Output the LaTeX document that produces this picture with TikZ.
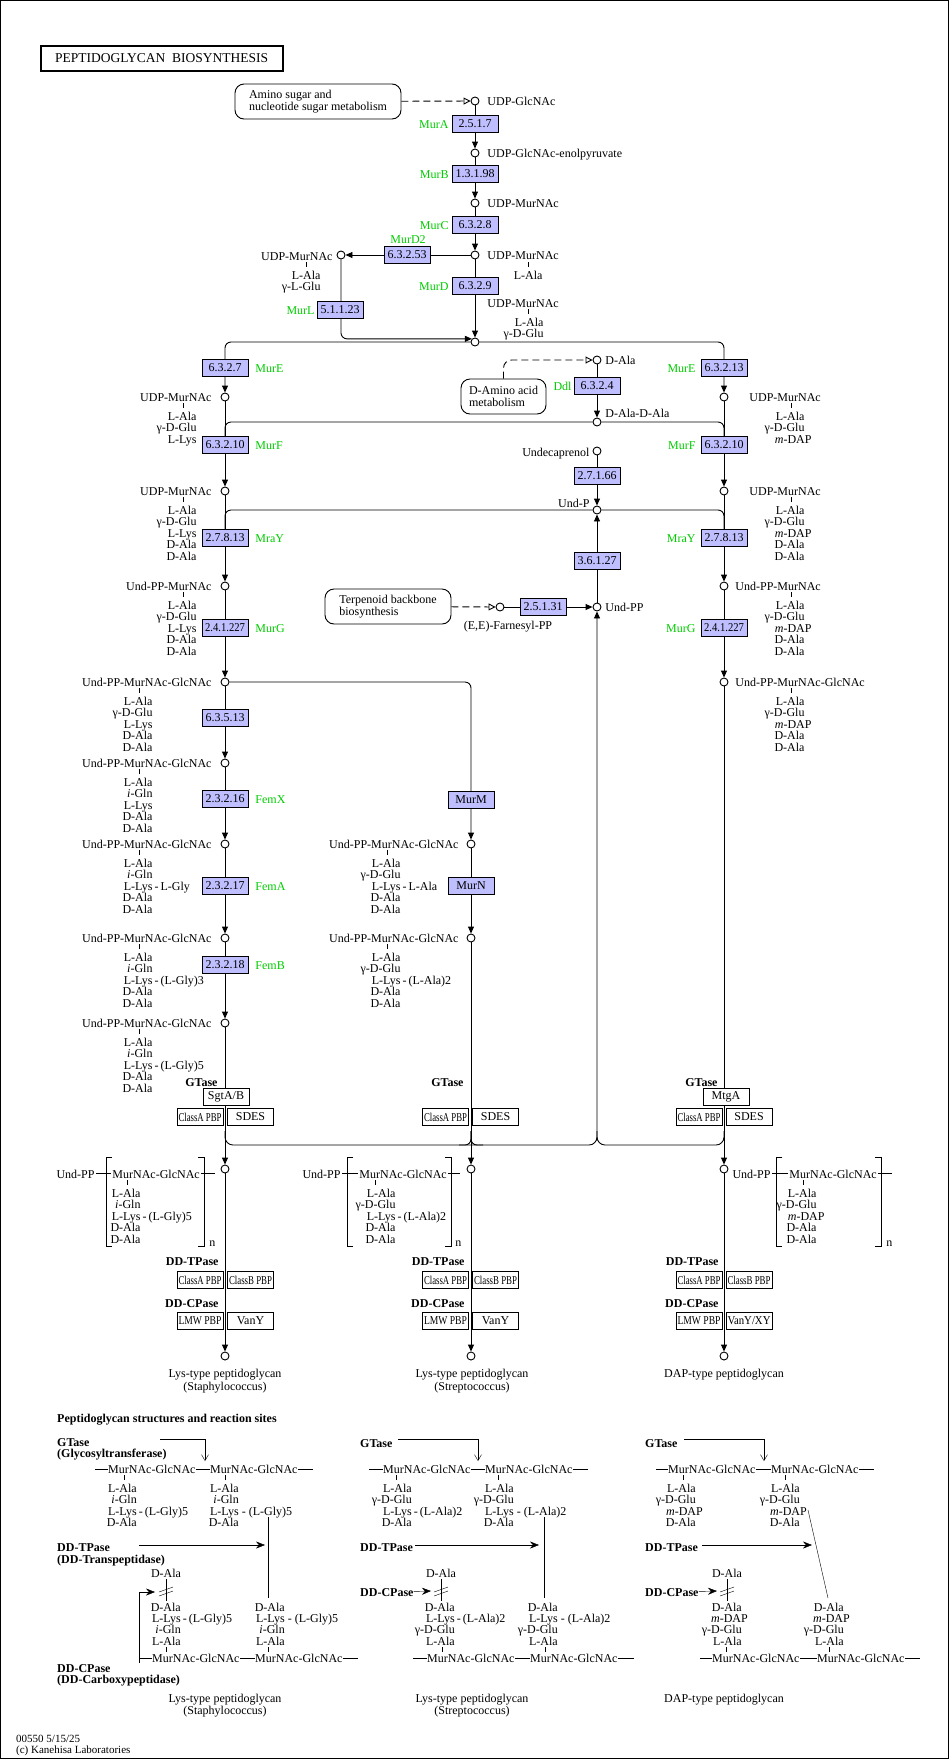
\documentclass[tikz,border=0pt]{standalone}
\usepackage{fontspec}
\setmainfont{Liberation Serif}
\usepackage{graphicx}
\usetikzlibrary{arrows.meta,positioning}

\pgfdeclarelayer{bg}
\pgfsetlayers{bg,main}

\definecolor{enzblue}{HTML}{BFBFFF}
\definecolor{genegreen}{HTML}{00CC00}

\newcommand{\txtfont}{\fontsize{12}{11.6}\selectfont}
\newcommand{\bldfont}{\fontsize{12}{11}\selectfont\bfseries}

% squeeze a text into a given width
\newsavebox\fitbox
\newcommand{\fitw}[2]{\sbox\fitbox{#2}%
  \ifdim\wd\fitbox>#1\relax\resizebox{#1}{\ht\fitbox}{\usebox\fitbox}\else\usebox\fitbox\fi}

\tikzset{
  cpd/.style={circle, draw, fill=white, minimum size=8pt, inner sep=0pt},
  ec/.style={draw, fill=enzblue, minimum width=46pt, minimum height=17pt, inner sep=0pt, font=\txtfont},
  gp/.style={draw, fill=white, minimum width=46pt, minimum height=17pt, inner sep=0pt, font=\txtfont},
  map/.style={draw, rounded corners=9pt, minimum height=35pt, inner sep=0pt, align=left, font=\fontsize{12}{11.5}\selectfont},
  gene/.style={text=genegreen, font=\txtfont, inner sep=0pt},
  lbl/.style={font=\txtfont, inner sep=0pt},
  bold/.style={font=\bldfont, inner sep=0pt},
  arr/.style={-{Triangle[length=7pt,width=6pt]}},
  dasharr/.style={dash pattern=on 7pt off 4pt, -{Triangle[open,length=7pt,width=7pt]}},
  barb/.style={-{Straight Barb[length=6pt,width=7pt]}},
  shaft/.style={-{Stealth[length=9pt,width=7pt,inset=3pt]}},
}

% enzyme box and plain gene box
\newcommand{\enz}[4]{\node[ec] (#1) at (#2,#3) {\fitw{40pt}{#4}};}
\newcommand{\gbox}[4]{\node[gp] (#1) at (#2,#3) {\fitw{43pt}{#4}};}
% residues below a compound name: name, tick x, name y, right edge, lines
\newcommand{\resid}[5]{%
  \draw (#2,#3+6) -- (#2,#3+11);
  \foreach \rs [count=\ii from 0] in {#5}
    \node[lbl, anchor=base east] (#1-\ii) at (#4,#3+23+\ii*11.6) {\rs};}
% plain stack: name, right edge, first line y, lines
\newcommand{\stk}[4]{%
  \foreach \rs [count=\ii from 0] in {#4}
    \node[lbl, anchor=base east] (#1-\ii) at (#2,#3+4+\ii*11.4) {\rs};}
% cut of the D-Ala--D-Ala bond
\newcommand{\cutmark}[2]{%
  \draw (#1,#2-12) -- (#1,#2+10);
  \draw (#1-7,#2+1) -- (#1+7,#2-4);
  \draw (#1-7,#2+5) -- (#1+7,#2);}

\begin{document}
\begin{tikzpicture}[x=1pt,y=-1pt,line width=0.9pt]
    \useasboundingbox (0,0) rectangle (949,1759);
    \draw[line width=1.2pt] (0.6,0.6) rectangle (948.4,1758.4);

    % Title
    \node[draw, line width=2pt, minimum width=242pt, minimum height=25pt, inner sep=0pt,
          font=\fontsize{13.5}{14}\selectfont] (title) at (161.6,58.4) {PEPTIDOGLYCAN\ \ BIOSYNTHESIS};

    % Maps
    \node[map, minimum width=166pt] (amino) at (318,101.5) {Amino sugar and\\nucleotide sugar metabolism};
    \node[map, minimum width=85pt] (damino) at (503.5,396.5) {D-Amino acid\\metabolism};
    \node[map, minimum width=126pt] (terp) at (388,606.5) {Terpenoid backbone\\biosynthesis};

    % Compounds, common part
    \node[cpd] (glcnac) at (475,101) {};
    \node[cpd] (enol) at (475,153) {};
    \node[cpd] (murnac) at (475,203) {};
    \node[cpd] (murnacA) at (475,255) {};
    \node[cpd] (murnacLG) at (341,255) {};
    \node[cpd] (murnacDG) at (475,342) {};
    % Lys branch
    \node[cpd] (lysA) at (225,397) {};
    \node[cpd] (lysB) at (225,491) {};
    \node[cpd] (lysC) at (225,586) {};
    \node[cpd] (lysD) at (225,682) {};
    \node[cpd] (lysE) at (225,763) {};
    \node[cpd] (lysF) at (225,844) {};
    \node[cpd] (lysG) at (225,938) {};
    \node[cpd] (lysH) at (225,1023) {};
    \node[cpd] (lysP) at (225,1169) {};
    \node[cpd] (lysEnd) at (225,1356) {};
    % Streptococcus branch
    \node[cpd] (strA) at (471,844) {};
    \node[cpd] (strB) at (471,938) {};
    \node[cpd] (strP) at (471,1169) {};
    \node[cpd] (strEnd) at (471,1356) {};
    % DAP branch
    \node[cpd] (dapA) at (724,397) {};
    \node[cpd] (dapB) at (724,491) {};
    \node[cpd] (dapC) at (724,586) {};
    \node[cpd] (dapD) at (724,682) {};
    \node[cpd] (dapP) at (724,1169) {};
    \node[cpd] (dapEnd) at (724,1356) {};
    % D-Ala and lipid carrier
    \node[cpd] (dala) at (597,360) {};
    \node[cpd] (dalaDala) at (597,422) {};
    \node[cpd] (undec) at (597,451) {};
    \node[cpd] (undP) at (597,510) {};
    \node[cpd] (undPP) at (597,607) {};
    \node[cpd] (farn) at (500,607) {};

    % Enzymes
    \enz{eMurA}{475}{124}{2.5.1.7}
    \enz{eMurB}{475}{174}{1.3.1.98}
    \enz{eMurC}{475}{225}{6.3.2.8}
    \enz{eMurDtwo}{407}{255}{6.3.2.53}
    \enz{eMurD}{475}{286}{6.3.2.9}
    \enz{eMurL}{340}{310}{5.1.1.23}
    \enz{eMurEl}{225}{368}{6.3.2.7}
    \enz{eMurEr}{724}{368}{6.3.2.13}
    \enz{eDdl}{597}{386}{6.3.2.4}
    \enz{eMurFl}{225}{445}{6.3.2.10}
    \enz{eMurFr}{724}{445}{6.3.2.10}
    \enz{eUdpK}{597}{476}{2.7.1.66}
    \enz{eMraYl}{225}{538}{2.7.8.13}
    \enz{eMraYr}{724}{538}{2.7.8.13}
    \enz{eUppP}{597}{561}{3.6.1.27}
    \enz{eUppS}{543}{607}{2.5.1.31}
    \enz{eMurGl}{225}{628}{2.4.1.227}
    \enz{eMurGr}{724}{628}{2.4.1.227}
    \enz{eMurT}{225}{718}{6.3.5.13}
    \enz{eFemX}{225}{799}{2.3.2.16}
    \enz{eMurM}{471}{800}{MurM}
    \enz{eFemA}{225}{886}{2.3.2.17}
    \enz{eMurN}{471}{886}{MurN}
    \enz{eFemB}{225}{965}{2.3.2.18}

    % Gene names
    \node[gene, anchor=base east] (gMurA) at (449,128) {MurA};
    \node[gene, anchor=base east] (gMurB) at (449,178) {MurB};
    \node[gene, anchor=base east] (gMurC) at (449,229) {MurC};
    \node[gene, anchor=base] (gMurDtwo) at (408,243) {MurD2};
    \node[gene, anchor=base east] (gMurD) at (449,290) {MurD};
    \node[gene, anchor=base east] (gMurL) at (315,314) {MurL};
    \node[gene, anchor=base west] (gMurEl) at (255,372) {MurE};
    \node[gene, anchor=base west] (gMurFl) at (255,449) {MurF};
    \node[gene, anchor=base west] (gMraYl) at (255,542) {MraY};
    \node[gene, anchor=base west] (gMurGl) at (255,632) {MurG};
    \node[gene, anchor=base west] (gFemX) at (255,803) {FemX};
    \node[gene, anchor=base west] (gFemA) at (255,890) {FemA};
    \node[gene, anchor=base west] (gFemB) at (255,969) {FemB};
    \node[gene, anchor=base east] (gMurEr) at (696,372) {MurE};
    \node[gene, anchor=base east] (gMurFr) at (696,449) {MurF};
    \node[gene, anchor=base east] (gMraYr) at (696,542) {MraY};
    \node[gene, anchor=base east] (gMurGr) at (696,632) {MurG};
    \node[gene, anchor=base east] (gDdl) at (572,390) {Ddl};

    % Compound names, common part
    \node[lbl, anchor=base west] (tGlcnac) at (487,105) {UDP-GlcNAc};
    \node[lbl, anchor=base west] (tEnol) at (487,157) {UDP-GlcNAc-enolpyruvate};
    \node[lbl, anchor=base west] (tMurnac) at (487,207) {UDP-MurNAc};
    \node[lbl, anchor=base west] (tMurnacA) at (487,259) {UDP-MurNAc};
    \resid{rMurnacA}{528}{256}{543}{L-Ala}
    \node[lbl, anchor=base east] (tMurnacLG) at (333,260) {UDP-MurNAc};
    \resid{rMurnacLG}{306}{256}{321}{L-Ala, γ-L-Glu}
    \node[lbl, anchor=base west] (tMurnacDG) at (487,307) {UDP-MurNAc};
    \resid{rMurnacDG}{528}{303}{544}{L-Ala, γ-D-Glu}
    \node[lbl, anchor=base west] (tDala) at (605,364) {D-Ala};
    \node[lbl, anchor=base west] (tDalaDala) at (605,417) {D-Ala-D-Ala};
    \node[lbl, anchor=base east] (tUndec) at (590,456) {Undecaprenol};
    \node[lbl, anchor=base east] (tUndP) at (590,507) {Und-P};
    \node[lbl, anchor=base west] (tUndPP) at (605,611) {Und-PP};
    \node[lbl, anchor=base] (tFarn) at (508,629) {(E,E)-Farnesyl-PP};

    % Lys branch names
    \node[lbl, anchor=base east] (tLysA) at (212,401) {UDP-MurNAc};
    \resid{rLysA}{183}{397}{197}{L-Ala, γ-D-Glu, L-Lys}
    \node[lbl, anchor=base east] (tLysB) at (212,495) {UDP-MurNAc};
    \resid{rLysB}{183}{491}{197}{L-Ala, γ-D-Glu, L-Lys, D-Ala, D-Ala}
    \node[lbl, anchor=base east] (tLysC) at (212,590) {Und-PP-MurNAc};
    \resid{rLysC}{183}{586}{197}{L-Ala, γ-D-Glu, L-Lys, D-Ala, D-Ala}
    \node[lbl, anchor=base east] (tLysD) at (212,686) {Und-PP-MurNAc-GlcNAc};
    \resid{rLysD}{139}{682}{153}{L-Ala, γ-D-Glu, L-Lys, D-Ala, D-Ala}
    \node[lbl, anchor=base east] (tLysE) at (212,767) {Und-PP-MurNAc-GlcNAc};
    \resid{rLysE}{139}{763}{153}{L-Ala, \textit{i}-Gln, L-Lys, D-Ala, D-Ala}
    \node[lbl, anchor=base east] (tLysF) at (212,848) {Und-PP-MurNAc-GlcNAc};
    \resid{rLysF}{139}{844}{153}{L-Ala, \textit{i}-Gln, L-Lys\rlap{\,-\,L-Gly}, D-Ala, D-Ala}
    \node[lbl, anchor=base east] (tLysG) at (212,942) {Und-PP-MurNAc-GlcNAc};
    \resid{rLysG}{139}{938}{153}{L-Ala, \textit{i}-Gln, L-Lys\rlap{\,-\,(L-Gly)3}, D-Ala, D-Ala}
    \node[lbl, anchor=base east] (tLysH) at (212,1027) {Und-PP-MurNAc-GlcNAc};
    \resid{rLysH}{139}{1023}{153}{L-Ala, \textit{i}-Gln, L-Lys\rlap{\,-\,(L-Gly)5}, D-Ala, D-Ala}

    % Streptococcus branch names
    \node[lbl, anchor=base east] (tStrA) at (459,848) {Und-PP-MurNAc-GlcNAc};
    \resid{rStrA}{387}{844}{401}{L-Ala, γ-D-Glu, L-Lys\rlap{\,-\,L-Ala}, D-Ala, D-Ala}
    \node[lbl, anchor=base east] (tStrB) at (459,942) {Und-PP-MurNAc-GlcNAc};
    \resid{rStrB}{387}{938}{401}{L-Ala, γ-D-Glu, L-Lys\rlap{\,-\,(L-Ala)2}, D-Ala, D-Ala}

    % DAP branch names
    \node[lbl, anchor=base west] (tDapA) at (749,401) {UDP-MurNAc};
    \resid{rDapA}{791}{397}{805}{L-Ala, γ-D-Glu, \textit{m}-DAP\kern-7pt}
    \node[lbl, anchor=base west] (tDapB) at (749,495) {UDP-MurNAc};
    \resid{rDapB}{791}{491}{805}{L-Ala, γ-D-Glu, \textit{m}-DAP\kern-7pt, D-Ala, D-Ala}
    \node[lbl, anchor=base west] (tDapC) at (735,590) {Und-PP-MurNAc};
    \resid{rDapC}{791}{586}{805}{L-Ala, γ-D-Glu, \textit{m}-DAP\kern-7pt, D-Ala, D-Ala}
    \node[lbl, anchor=base west] (tDapD) at (735,686) {Und-PP-MurNAc-GlcNAc};
    \resid{rDapD}{791}{682}{805}{L-Ala, γ-D-Glu, \textit{m}-DAP\kern-7pt, D-Ala, D-Ala}

    % GTase
    \node[bold, anchor=base east] (gtL) at (218,1086) {GTase};
    \gbox{sgt}{226}{1097}{SgtA/B}
    \gbox{paL}{200}{1117}{ClassA PBP}
    \gbox{sdL}{250.5}{1117}{SDES}
    \node[bold, anchor=base east] (gtM) at (464,1086) {GTase};
    \gbox{paM}{445.5}{1117}{ClassA PBP}
    \gbox{sdM}{495.5}{1117}{SDES}
    \node[bold, anchor=base east] (gtR) at (718,1086) {GTase};
    \gbox{mtg}{726}{1097}{MtgA}
    \gbox{paR}{699}{1117}{ClassA PBP}
    \gbox{sdR}{749}{1117}{SDES}

    % Polymers
    \node[lbl, anchor=base east, inner xsep=1pt] (pUndL) at (96,1178) {Und-PP};
    \node[lbl, anchor=base west, inner xsep=1pt] (pMurL) at (111,1178) {MurNAc-GlcNAc};
    \draw (pUndL) -- (pMurL);
    \draw (pMurL.east) -- ++(14,0);
    \draw (112,1157) -| (106,1246) -- (112,1246);
    \draw (198,1157) -| (204,1246) -- (198,1246);
    \node[lbl, anchor=base west] (pNL) at (209,1246) {n};
    \resid{rPL}{127}{1174}{141}{L-Ala, \textit{i}-Gln, L-Lys\rlap{\,-\,(L-Gly)5}, D-Ala, D-Ala}

    \node[lbl, anchor=base east, inner xsep=1pt] (pUndM) at (342,1178) {Und-PP};
    \node[lbl, anchor=base west, inner xsep=1pt] (pMurM) at (358,1178) {MurNAc-GlcNAc};
    \draw (pUndM) -- (pMurM);
    \draw (pMurM.east) -- ++(12,0);
    \draw (353,1157) -| (347,1246) -- (353,1246);
    \draw (445,1157) -| (451,1246) -- (445,1246);
    \node[lbl, anchor=base west] (pNM) at (455,1246) {n};
    \resid{rPM}{375}{1174}{396}{L-Ala, γ-D-Glu, L-Lys\rlap{\,-\,(L-Ala)2}, D-Ala, D-Ala}

    \node[lbl, anchor=base east, inner xsep=1pt] (pUndR) at (772,1178) {Und-PP};
    \node[lbl, anchor=base west, inner xsep=1pt] (pMurR) at (788,1178) {MurNAc-GlcNAc};
    \draw (pUndR) -- (pMurR);
    \draw (pMurR.east) -- ++(14,0);
    \draw (782,1157) -| (776,1246) -- (782,1246);
    \draw (875,1157) -| (881,1246) -- (875,1246);
    \node[lbl, anchor=base west] (pNR) at (886,1246) {n};
    \resid{rPR}{803}{1174}{817}{L-Ala, γ-D-Glu, \textit{m}-DAP\kern-8pt, D-Ala, D-Ala}

    % DD-TPase and DD-CPase
    \node[bold, anchor=base east] (tpL) at (219,1265) {DD-TPase};
    \gbox{tpaL}{200}{1280}{ClassA PBP}
    \gbox{tpbL}{250.5}{1280}{ClassB PBP}
    \node[bold, anchor=base east] (cpL) at (219,1307) {DD-CPase};
    \gbox{cpaL}{200}{1321}{LMW PBP}
    \gbox{cpbL}{250.5}{1321}{VanY}
    \node[bold, anchor=base east] (tpM) at (465,1265) {DD-TPase};
    \gbox{tpaM}{445.5}{1280}{ClassA PBP}
    \gbox{tpbM}{495.5}{1280}{ClassB PBP}
    \node[bold, anchor=base east] (cpM) at (465,1307) {DD-CPase};
    \gbox{cpaM}{445.5}{1321}{LMW PBP}
    \gbox{cpbM}{495.5}{1321}{VanY}
    \node[bold, anchor=base east] (tpR) at (719,1265) {DD-TPase};
    \gbox{tpaR}{699}{1280}{ClassA PBP}
    \gbox{tpbR}{749}{1280}{ClassB PBP}
    \node[bold, anchor=base east] (cpR) at (719,1307) {DD-CPase};
    \gbox{cpaR}{699}{1321}{LMW PBP}
    \gbox{cpbR}{749}{1321}{VanY/XY}

    % Products
    \node[lbl, anchor=base] (endL) at (225,1377) {Lys-type peptidoglycan};
    \node[lbl, anchor=base] (endLb) at (225,1390) {(Staphylococcus)};
    \node[lbl, anchor=base] (endM) at (472,1377) {Lys-type peptidoglycan};
    \node[lbl, anchor=base] (endMb) at (472,1390) {(Streptococcus)};
    \node[lbl, anchor=base] (endR) at (724,1377) {DAP-type peptidoglycan};

    % Recycling of Und-PP
    \coordinate (mergeL) at (225,1131);
    \coordinate (mergeM) at (471,1131);
    \coordinate (mergeMl) at (459,1145);
    \coordinate (mergeMr) at (483,1145);
    \coordinate (mergeR) at (724,1131);
    \coordinate (recyc) at (597,1145);
    \coordinate (recycUp) at (597,1131);

    % Connectors
    \begin{pgfonlayer}{bg}
    \begin{scope}[line width=0.9pt]
    \draw[dasharr] (amino) -- (glcnac);
    \draw[arr] (glcnac) -- (enol);
    \draw[arr] (enol) -- (murnac);
    \draw[arr] (murnac) -- (murnacA);
    \draw[arr] (murnacA) -- (murnacLG);
    \draw[arr] (murnacA) -- (murnacDG);
    \draw[arr, rounded corners=6] (murnacLG) |- (murnacDG.north west);
    \draw[arr, rounded corners=6] (murnacDG) -| (lysA);
    \draw[arr, rounded corners=6] (murnacDG) -| (dapA);
    \draw[dasharr, rounded corners=8] (damino) |- (dala);
    \draw[arr] (dala) -- (dalaDala);
    \draw[rounded corners=6] (dalaDala) -| (eMurFl.north);
    \draw[rounded corners=6] (dalaDala) -| (eMurFr.north);
    \draw[arr] (undec) -- (undP);
    \draw[arr] (undPP) -- (undP);
    \draw[rounded corners=6] (undP) -| (eMraYl.north);
    \draw[rounded corners=6] (undP) -| (eMraYr.north);
    \draw[dasharr] (terp) -- (farn);
    \draw[arr] (farn) -- (undPP);
    \draw[arr] (lysA) -- (lysB);
    \draw[arr] (lysB) -- (lysC);
    \draw[arr] (lysC) -- (lysD);
    \draw[arr] (lysD) -- (lysE);
    \draw[arr] (lysE) -- (lysF);
    \draw[arr] (lysF) -- (lysG);
    \draw[arr] (lysG) -- (lysH);
    \draw[arr] (lysH) -- (lysP);
    \draw[arr] (lysP) -- (lysEnd);
    \draw[arr, rounded corners=6] (lysD) -| (strA);
    \draw[arr] (strA) -- (strB);
    \draw[arr] (strB) -- (strP);
    \draw[arr] (strP) -- (strEnd);
    \draw[arr] (dapA) -- (dapB);
    \draw[arr] (dapB) -- (dapC);
    \draw[arr] (dapC) -- (dapD);
    \draw[arr] (dapD) -- (dapP);
    \draw[arr] (dapP) -- (dapEnd);
    \draw[arr, rounded corners=8] (mergeL) |- (recyc) -- (undPP);
    \draw[rounded corners=8] (mergeR) |- (recyc) -- (recycUp);
    \draw[rounded corners=6] (mergeMl) -| (mergeM);
    \draw[rounded corners=6] (mergeM) |- (mergeMr);
    \end{scope}
    \end{pgfonlayer}

    % Peptidoglycan structures and reaction sites
    \node[bold, anchor=base west] (secT) at (57,1422) {Peptidoglycan structures and reaction sites};

    % Staphylococcus type
    \node[bold, anchor=base west] (gt1) at (57,1446) {GTase};
    \node[bold, anchor=base west] (gt1b) at (57,1457) {(Glycosyltransferase)};
    \coordinate (gt1s) at (160,1439);
    \coordinate (gt1e) at (205,1461);
    \draw[barb] (gt1s) -| (gt1e);
    \node[lbl, anchor=base west] (t1a) at (108,1473) {MurNAc-GlcNAc};
    \node[lbl, anchor=base west] (t1b) at (210,1473) {MurNAc-GlcNAc};
    \draw (t1a.west) -- ++(-13,0);
    \draw (t1a) -- (t1b);
    \draw (t1b.east) -- ++(15,0);
    \resid{s1a}{124}{1469}{137}{L-Ala, \textit{i}-Gln, L-Lys\rlap{\,-\,(L-Gly)5}, D-Ala}
    \resid{s1b}{225}{1469}{239}{L-Ala, \textit{i}-Gln, L-Lys\rlap{\ -\ (L-Gly)5}, D-Ala}
    \node[bold, anchor=base west] (tp1) at (57,1551) {DD-TPase};
    \node[bold, anchor=base west] (tp1b) at (57,1563) {(DD-Transpeptidase)};
    \coordinate (tp1s) at (139,1545);
    \coordinate (tp1e) at (265,1545);
    \draw[shaft] (tp1s) -- (tp1e);
    \draw (268,1517) -- (268,1598);
    \node[lbl] (cut1) at (166,1573) {D-Ala};
    \cutmark{166}{1591}
    \stk{u1a}{181}{1607}{D-Ala, L-Lys\rlap{\,-\,(L-Gly)5}, \textit{i}-Gln, L-Ala}
    \stk{u1b}{285}{1607}{D-Ala, L-Lys\rlap{\ -\ (L-Gly)5}, \textit{i}-Gln, L-Ala}
    \draw (166,1647) -- (166,1652);
    \draw (268,1647) -- (268,1652);
    \node[lbl, anchor=base west] (b1a) at (152,1662) {MurNAc-GlcNAc};
    \node[lbl, anchor=base west] (b1b) at (255,1662) {MurNAc-GlcNAc};
    \draw (b1a.west) -- ++(-13,0);
    \draw (b1a) -- (b1b);
    \draw (b1b.east) -- ++(15,0);
    \node[bold, anchor=base west] (cp1) at (57,1672) {DD-CPase};
    \node[bold, anchor=base west] (cp1b) at (57,1683) {(DD-Carboxypeptidase)};
    \coordinate (cp1s) at (139,1663);
    \coordinate (cp1e) at (155,1592);
    \draw[shaft] (cp1s) |- (cp1e);
    \node[lbl, anchor=base] (ty1) at (225,1702) {Lys-type peptidoglycan};
    \node[lbl, anchor=base] (ty1b) at (225,1714) {(Staphylococcus)};

    % Streptococcus type
    \node[bold, anchor=base west] (gt2) at (360,1447) {GTase};
    \coordinate (gt2s) at (398,1439);
    \coordinate (gt2e) at (478,1461);
    \draw[barb] (gt2s) -| (gt2e);
    \node[lbl, anchor=base west] (t2a) at (383,1473) {MurNAc-GlcNAc};
    \node[lbl, anchor=base west] (t2b) at (485,1473) {MurNAc-GlcNAc};
    \draw (t2a.west) -- ++(-14,0);
    \draw (t2a) -- (t2b);
    \draw (t2b.east) -- ++(15,0);
    \resid{s2a}{396}{1469}{412}{L-Ala, γ-D-Glu, L-Lys\rlap{\,-\,(L-Ala)2}, D-Ala}
    \resid{s2b}{498}{1469}{514}{L-Ala, γ-D-Glu, L-Lys\rlap{\ -\ (L-Ala)2}, D-Ala}
    \node[bold, anchor=base west] (tp2) at (360,1551) {DD-TPase};
    \coordinate (tp2s) at (415,1545);
    \coordinate (tp2e) at (539,1545);
    \draw[shaft] (tp2s) -- (tp2e);
    \draw (544,1517) -- (544,1598);
    \node[lbl] (cut2) at (441,1573) {D-Ala};
    \cutmark{441}{1591}
    \node[bold, anchor=base west] (cp2) at (360,1596) {DD-CPase};
    \coordinate (cp2e) at (431,1591);
    \draw[shaft] (cp2) -- (cp2e);
    \stk{u2a}{455}{1607}{D-Ala, L-Lys\rlap{\,-\,(L-Ala)2}, γ-D-Glu, L-Ala}
    \stk{u2b}{558}{1607}{D-Ala, L-Lys\rlap{\ -\ (L-Ala)2}, γ-D-Glu, L-Ala}
    \draw (442,1647) -- (442,1652);
    \draw (545,1647) -- (545,1652);
    \node[lbl, anchor=base west] (b2a) at (427,1662) {MurNAc-GlcNAc};
    \node[lbl, anchor=base west] (b2b) at (530,1662) {MurNAc-GlcNAc};
    \draw (b2a.west) -- ++(-14,0);
    \draw (b2a) -- (b2b);
    \draw (b2b.east) -- ++(16,0);
    \node[lbl, anchor=base] (ty2) at (472,1702) {Lys-type peptidoglycan};
    \node[lbl, anchor=base] (ty2b) at (472,1714) {(Streptococcus)};

    % DAP type
    \node[bold, anchor=base west] (gt3) at (645,1447) {GTase};
    \coordinate (gt3s) at (684,1439);
    \coordinate (gt3e) at (764,1461);
    \draw[barb] (gt3s) -| (gt3e);
    \node[lbl, anchor=base west] (t3a) at (668,1473) {MurNAc-GlcNAc};
    \node[lbl, anchor=base west] (t3b) at (771,1473) {MurNAc-GlcNAc};
    \draw (t3a.west) -- ++(-12,0);
    \draw (t3a) -- (t3b);
    \draw (t3b.east) -- ++(15,0);
    \resid{s3a}{683}{1469}{696}{L-Ala, γ-D-Glu, \textit{m}-DAP\kern-7pt, D-Ala}
    \resid{s3b}{785}{1469}{800}{L-Ala, γ-D-Glu, \textit{m}-DAP\kern-7pt, D-Ala}
    \node[bold, anchor=base west] (tp3) at (645,1551) {DD-TPase};
    \coordinate (tp3s) at (702,1545);
    \coordinate (tp3e) at (812,1545);
    \draw[shaft] (tp3s) -- (tp3e);
    \draw (808,1510) -- (828,1598);
    \node[lbl] (cut3) at (727,1573) {D-Ala};
    \cutmark{727}{1591}
    \node[bold, anchor=base west] (cp3) at (645,1596) {DD-CPase};
    \coordinate (cp3e) at (717,1591);
    \draw[shaft] (cp3) -- (cp3e);
    \stk{u3a}{742}{1607}{D-Ala, \textit{m}-DAP\kern-6pt, γ-D-Glu, L-Ala}
    \stk{u3b}{844}{1607}{D-Ala, \textit{m}-DAP\kern-6pt, γ-D-Glu, L-Ala}
    \draw (726,1647) -- (726,1652);
    \draw (829,1647) -- (829,1652);
    \node[lbl, anchor=base west] (b3a) at (712,1662) {MurNAc-GlcNAc};
    \node[lbl, anchor=base west] (b3b) at (817,1662) {MurNAc-GlcNAc};
    \draw (b3a.west) -- ++(-12,0);
    \draw (b3a) -- (b3b);
    \draw (b3b.east) -- ++(15,0);
    \node[lbl, anchor=base] (ty3) at (724,1702) {DAP-type peptidoglycan};

    % Footer
    \node[lbl, anchor=base west, font=\fontsize{11}{11}\selectfont] (ver) at (16,1742) {00550 5/15/25};
    \node[lbl, anchor=base west, font=\fontsize{11}{11}\selectfont] (copy) at (16,1753) {(c) Kanehisa Laboratories};
\end{tikzpicture}
\end{document}
